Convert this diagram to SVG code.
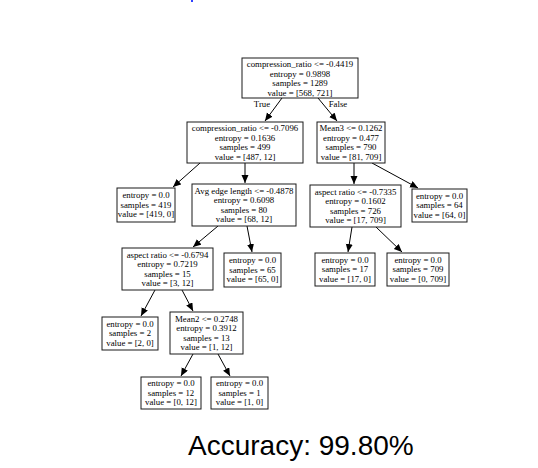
<svg xmlns="http://www.w3.org/2000/svg" width="538" height="468" viewBox="0 0 538 468">
<style>
.box{fill:#fff;stroke:#1a1a1a;stroke-width:1}
.t{font-family:"Liberation Serif","Times New Roman",serif;font-size:8.8px;fill:#000;text-anchor:middle}
.e{stroke:#000;stroke-width:1;fill:none;marker-end:url(#ah)}
.acc{font-family:"Liberation Sans",Arial,sans-serif;font-size:28px;fill:#000}
</style>
<defs>
<marker id="ah" markerUnits="userSpaceOnUse" markerWidth="9" markerHeight="8" refX="8" refY="3.5" orient="auto">
<path d="M0,0 L8,3.5 L0,7 Z" fill="#000"/>
</marker>
</defs>
<rect width="538" height="468" fill="#fff"/>
<rect x="191" y="0" width="2" height="2" fill="#3040ff"/>
<g id="connectors">
<line class="e" x1="282" y1="98" x2="265" y2="121"/>
<line class="e" x1="318" y1="98" x2="337" y2="121"/>
<text class="t" x="262" y="107">True</text>
<text class="t" x="338" y="107">False</text>
<line class="e" x1="200" y1="163" x2="173" y2="187"/>
<line class="e" x1="245" y1="163" x2="245" y2="183"/>
<line class="e" x1="354" y1="163" x2="354" y2="184"/>
<line class="e" x1="372" y1="163" x2="418" y2="188"/>
<line class="e" x1="218" y1="226" x2="193" y2="247"/>
<line class="e" x1="247" y1="226" x2="252" y2="252"/>
<line class="e" x1="352" y1="227" x2="348" y2="252"/>
<line class="e" x1="376" y1="227" x2="402" y2="252"/>
<line class="e" x1="155" y1="290" x2="141" y2="316"/>
<line class="e" x1="182" y1="290" x2="193" y2="311"/>
<line class="e" x1="193" y1="354" x2="181" y2="376"/>
<line class="e" x1="218" y1="354" x2="230" y2="376"/>
</g>
<g id="n0">
<rect class="box" x="242" y="58" width="116" height="40"/>
<text class="t" x="300" y="67">compression_ratio &lt;= -0.4419</text>
<text class="t" x="300" y="76.5">entropy = 0.9898</text>
<text class="t" x="300" y="86">samples = 1289</text>
<text class="t" x="300" y="95.5">value = [568, 721]</text>
</g>
<g id="n1">
<rect class="box" x="187" y="122" width="116" height="41"/>
<text class="t" x="245" y="131">compression_ratio &lt;= -0.7096</text>
<text class="t" x="245" y="140.5">entropy = 0.1636</text>
<text class="t" x="245" y="150">samples = 499</text>
<text class="t" x="245" y="159.5">value = [487, 12]</text>
</g>
<g id="n2">
<rect class="box" x="317" y="122" width="68" height="41"/>
<text class="t" x="351" y="131">Mean3 &lt;= 0.1262</text>
<text class="t" x="351" y="140.5">entropy = 0.477</text>
<text class="t" x="351" y="150">samples = 790</text>
<text class="t" x="351" y="159.5">value = [81, 709]</text>
</g>
<g id="n3">
<rect class="box" x="117" y="188" width="58" height="34"/>
<text class="t" x="146" y="198">entropy = 0.0</text>
<text class="t" x="146" y="207.5">samples = 419</text>
<text class="t" x="146" y="217">value = [419, 0]</text>
</g>
<g id="n4">
<rect class="box" x="192" y="184" width="104" height="42"/>
<text class="t" x="244" y="193.5">Avg edge length &lt;= -0.4878</text>
<text class="t" x="244" y="203">entropy = 0.6098</text>
<text class="t" x="244" y="212.5">samples = 80</text>
<text class="t" x="244" y="222">value = [68, 12]</text>
</g>
<g id="n5">
<rect class="box" x="310" y="185" width="91" height="42"/>
<text class="t" x="355.5" y="194.5">aspect ratio &lt;= -0.7335</text>
<text class="t" x="355.5" y="204">entropy = 0.1602</text>
<text class="t" x="355.5" y="213.5">samples = 726</text>
<text class="t" x="355.5" y="223">value = [17, 709]</text>
</g>
<g id="n6">
<rect class="box" x="412" y="189" width="55" height="33"/>
<text class="t" x="439.5" y="198.5">entropy = 0.0</text>
<text class="t" x="439.5" y="208">samples = 64</text>
<text class="t" x="439.5" y="217.5">value = [64, 0]</text>
</g>
<g id="n7">
<rect class="box" x="122" y="248" width="91" height="42"/>
<text class="t" x="167.5" y="257.5">aspect ratio &lt;= -0.6794</text>
<text class="t" x="167.5" y="267">entropy = 0.7219</text>
<text class="t" x="167.5" y="276.5">samples = 15</text>
<text class="t" x="167.5" y="286">value = [3, 12]</text>
</g>
<g id="n8">
<rect class="box" x="224" y="253" width="57" height="34"/>
<text class="t" x="252.5" y="263">entropy = 0.0</text>
<text class="t" x="252.5" y="272.5">samples = 65</text>
<text class="t" x="252.5" y="282">value = [65, 0]</text>
</g>
<g id="n9">
<rect class="box" x="315" y="253" width="60" height="33"/>
<text class="t" x="345" y="262.5">entropy = 0.0</text>
<text class="t" x="345" y="272">samples = 17</text>
<text class="t" x="345" y="281.5">value = [17, 0]</text>
</g>
<g id="n10">
<rect class="box" x="387" y="253" width="62" height="33"/>
<text class="t" x="418" y="262.5">entropy = 0.0</text>
<text class="t" x="418" y="272">samples = 709</text>
<text class="t" x="418" y="281.5">value = [0, 709]</text>
</g>
<g id="n11">
<rect class="box" x="102" y="317" width="56" height="33"/>
<text class="t" x="130" y="326.5">entropy = 0.0</text>
<text class="t" x="130" y="336">samples = 2</text>
<text class="t" x="130" y="345.5">value = [2, 0]</text>
</g>
<g id="n12">
<rect class="box" x="170" y="312" width="73" height="42"/>
<text class="t" x="206.5" y="321.5">Mean2 &lt;= 0.2748</text>
<text class="t" x="206.5" y="331">entropy = 0.3912</text>
<text class="t" x="206.5" y="340.5">samples = 13</text>
<text class="t" x="206.5" y="350">value = [1, 12]</text>
</g>
<g id="n13">
<rect class="box" x="141" y="377" width="60" height="32"/>
<text class="t" x="171" y="386">entropy = 0.0</text>
<text class="t" x="171" y="395.5">samples = 12</text>
<text class="t" x="171" y="405">value = [0, 12]</text>
</g>
<g id="n14">
<rect class="box" x="211" y="377" width="57" height="32"/>
<text class="t" x="239.5" y="386">entropy = 0.0</text>
<text class="t" x="239.5" y="395.5">samples = 1</text>
<text class="t" x="239.5" y="405">value = [1, 0]</text>
</g>
<text class="acc" x="188" y="455">Accuracy: 99.80%</text>
</svg>
